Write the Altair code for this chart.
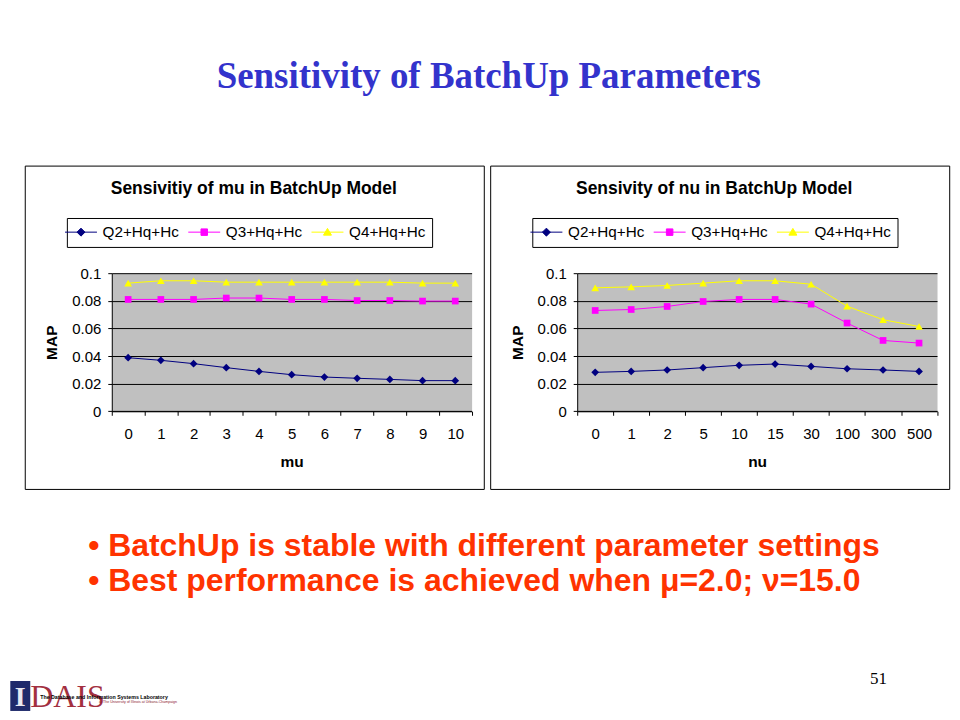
import altair as alt
import pandas as pd

# ---------------- data ----------------
SERIES = ["Q2+Hq+Hc", "Q3+Hq+Hc", "Q4+Hq+Hc"]
COLORS = ["#000080", "#FF00FF", "#FFFF00"]
SHAPES = ["diamond", "square", "triangle-up"]
SIZES = [60, 45, 60]

MU = ["0", "1", "2", "3", "4", "5", "6", "7", "8", "9", "10"]
MU_Q2 = [0.0388, 0.0369, 0.0345, 0.0316, 0.0289, 0.0265, 0.0248, 0.0239, 0.0231, 0.0222, 0.0222]
MU_Q3 = [0.0810, 0.0810, 0.0810, 0.0820, 0.0820, 0.0810, 0.0810, 0.0802, 0.0802, 0.0798, 0.0798]
MU_Q4 = [0.0928, 0.0945, 0.0945, 0.0935, 0.0935, 0.0935, 0.0935, 0.0935, 0.0935, 0.0928, 0.0928]

NU = ["0", "1", "2", "5", "10", "15", "30", "100", "300", "500"]
NU_Q2 = [0.0282, 0.0289, 0.0299, 0.0316, 0.0333, 0.0342, 0.0325, 0.0308, 0.0299, 0.0289]
NU_Q3 = [0.0730, 0.0737, 0.0759, 0.0795, 0.0810, 0.0810, 0.0776, 0.0639, 0.0513, 0.0494]
NU_Q4 = [0.0894, 0.0901, 0.0911, 0.0928, 0.0945, 0.0945, 0.0920, 0.0761, 0.0663, 0.0614]

Y_TICKS = [0, 0.02, 0.04, 0.06, 0.08, 0.1]

PAGE_TITLE = "Sensitivity of BatchUp Parameters"
LEFT_TITLE = "Sensivitiy of mu in BatchUp Model"
RIGHT_TITLE = "Sensivity of nu in BatchUp Model"
BULLET_1 = "\u2022 BatchUp is stable with different parameter settings"
BULLET_2 = "\u2022 Best performance is achieved when \u03bc=2.0; \u03bd=15.0"
PAGE_NUM = "51"
LOGO_I = "I"
LOGO_DAIS = "DAIS"
LOGO_LINE1 = "The Database and Information Systems Laboratory"
LOGO_LINE2 = "at The University of Illinois at Urbana-Champaign"

# legend symbols: a short line with the marker on it
LEG_PATHS = [
    "M-3.2,0H3.2M0,-0.8L0.8,0L0,0.8L-0.8,0Z",
    "M-3.2,0H3.2M-0.65,-0.65H0.65V0.65H-0.65Z",
    "M-3.2,0H3.2M0,-0.75L0.8,0.6H-0.8Z",
]

# ---------------- layout ----------------
W, H = 360.6, 138.4
OX, OY = 110.7, 272.3      # page position of the left plot origin
SANS = "Liberation Sans"
SERIF = "Liberation Serif"

one = pd.DataFrame({"k": [0]})


def px(x):
    return x - OX


def py(y):
    return y - OY


def text_layer(txt, x, y, size, color="black", font=SANS, weight="normal",
               align="left", baseline="alphabetic"):
    return alt.Chart(one).mark_text(
        font=font, fontSize=size, fontWeight=weight, color=color,
        align=align, baseline=baseline
    ).encode(x=alt.value(x), y=alt.value(y), text=alt.value(txt))


def panel(cats, vals, xtitle, ctitle, title_cx, with_page=False):
    rows = []
    for s, arr in zip(SERIES, vals):
        for c, v in zip(cats, arr):
            rows.append({"x": c, "series": s, "v": v})
    df = pd.DataFrame(rows)

    xenc = alt.X(
        "x:N", sort=cats,
        scale=alt.Scale(type="band", paddingInner=0, paddingOuter=0),
        axis=alt.Axis(title=xtitle, labelAngle=0, tickBand="extent", grid=False,
                      tickSize=4, labelPadding=11, titleX=W / 2, titleY=50,
                      titleBaseline="middle", titleAlign="center"),
    )
    yenc = alt.Y(
        "v:Q",
        scale=alt.Scale(domain=[0, 0.1], nice=False, zero=True),
        axis=alt.Axis(title="MAP", values=Y_TICKS, format="~g", grid=True,
                      tickSize=4, labelPadding=7, titleX=-60, titleY=H / 2,
                      titleBaseline="middle", titleAlign="center"),
    )

    base = alt.Chart(df)
    layers = []
    if with_page:
        # invisible page-sized frame fixing the picture's extent
        layers.append(
            alt.Chart(one).mark_rect(opacity=0).encode(
                x=alt.value(px(8)), x2=alt.value(px(952)),
                y=alt.value(py(8)), y2=alt.value(py(712)))
        )
    # chart frame
    layers.append(
        alt.Chart(one).mark_rect(fillOpacity=0, stroke="black", strokeWidth=1).encode(
            x=alt.value(-86.7), x2=alt.value(373.3),
            y=alt.value(-107.3), y2=alt.value(216.7))
    )
    for s, c in zip(SERIES, COLORS):
        layers.append(
            base.transform_filter(alt.datum.series == s)
            .mark_line(strokeWidth=1, color=c)
            .encode(x=xenc, y=yenc)
        )
    for s, c, sh, sz in zip(SERIES, COLORS, SHAPES, SIZES):
        layers.append(
            base.transform_filter(alt.datum.series == s)
            .mark_point(shape=sh, filled=True, size=sz, color=c, opacity=1, strokeWidth=0)
            .encode(x=xenc, y=yenc)
        )

    leg = dict(orient="none", legendX=-45, legendY=-55.3, direction="horizontal",
               title=None, padding=6.5, strokeColor="black", fillColor="white",
               labelFont=SANS, labelFontSize=15.3, labelColor="black",
               labelOffset=14, columnPadding=6.5, symbolSize=100,
               symbolStrokeWidth=1, symbolOpacity=1)
    ldf = pd.DataFrame({"lg": SERIES})
    layers.append(
        alt.Chart(ldf).mark_point(filled=True, opacity=0, size=1).encode(
            x=alt.value(0), y=alt.value(0),
            fill=alt.Fill("lg:N", scale=alt.Scale(domain=SERIES, range=COLORS),
                          legend=alt.Legend(**leg)),
            stroke=alt.Stroke("lg:N", scale=alt.Scale(domain=SERIES, range=COLORS),
                              legend=alt.Legend(**leg)),
            shape=alt.Shape("lg:N", scale=alt.Scale(domain=SERIES, range=LEG_PATHS),
                            legend=alt.Legend(**leg)),
        )
    )
    layers.append(text_layer(ctitle, title_cx, -84.3, 17.5, weight="bold",
                             align="center", baseline="middle"))

    if with_page:
        layers.append(text_layer(PAGE_TITLE, px(488.5), py(87), 37, color="#3333CC",
                                 font=SERIF, weight="bold", align="center"))
        layers.append(text_layer(BULLET_1, px(87), py(556), 32, color="#FF3300",
                                 weight="bold"))
        layers.append(text_layer(BULLET_2, px(87), py(591), 32, color="#FF3300",
                                 weight="bold"))
        layers.append(text_layer(PAGE_NUM, px(879), py(684), 17, font=SERIF,
                                 align="center"))
        # logo approximation
        layers.append(
            alt.Chart(one).mark_rect(color="#1F2A6B").encode(
                x=alt.value(px(9)), x2=alt.value(px(29)),
                y=alt.value(py(681)), y2=alt.value(py(711)))
        )
        layers.append(text_layer(LOGO_I, px(19), py(706), 28, color="#E8E8F0",
                                 font=SERIF, weight="bold", align="center"))
        layers.append(text_layer(LOGO_DAIS, px(29), py(707), 32, color="#A3303F",
                                 font=SERIF))
        layers.append(text_layer(LOGO_LINE1, px(39), py(699), 5.3, weight="bold"))
        layers.append(text_layer(LOGO_LINE2, px(98), py(703.5), 3.6, color="#8B2232"))

    return alt.layer(*layers).properties(width=W, height=H)


left = panel(MU, [MU_Q2, MU_Q3, MU_Q4], "mu", LEFT_TITLE, 142.3, with_page=True)
right = panel(NU, [NU_Q2, NU_Q3, NU_Q4], "nu", RIGHT_TITLE, 137.3)

chart = (
    alt.hconcat(left, right, spacing=576.7 - 471.3, bounds="flush")
    .resolve_scale(fill="independent", stroke="independent", shape="independent")
    .resolve_legend(fill="independent", stroke="independent", shape="independent")
    .properties(padding=0, background="white")
    .configure_view(fill="#C0C0C0", stroke="transparent")
    .configure_axis(
        domainColor="black", tickColor="black", labelColor="black", titleColor="black",
        gridColor="black", gridWidth=1, domainWidth=1, tickWidth=1,
        labelFont=SANS, labelFontSize=15, titleFont=SANS, titleFontSize=15.5,
        titleFontWeight="bold",
    )
)

chart.save("out.html", embed_options={"renderer": "svg", "actions": False})
